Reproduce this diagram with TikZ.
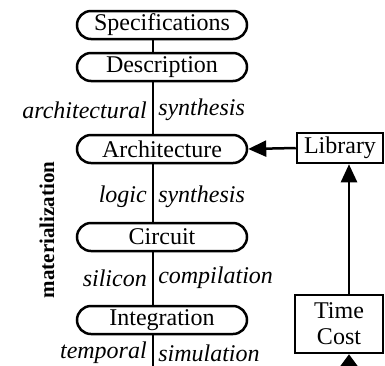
\documentclass[tikz,border=0pt]{standalone}
\usepackage{fontspec}
\setmainfont{Liberation Serif}
\usetikzlibrary{arrows.meta}

\begin{document}
\begin{tikzpicture}[x=0.5pt,y=-0.5pt,line width=1.25pt,
  stage/.style={draw,rounded corners=7pt,minimum width=85pt,minimum height=14pt,inner sep=0pt,font=\fontsize{12}{14}\selectfont},
  res/.style={draw,inner sep=0pt,align=center,font=\fontsize{12}{13}\selectfont},
  lab/.style={inner sep=0pt,font=\fontsize{12}{14}\selectfont\itshape},
  flow/.style={-{Triangle[length=9pt,width=8pt]}}]
\useasboundingbox (0,0) rectangle (385,365);
%%\draw[help lines] (0,0) grid[step=20] (385,365);
\coordinate (axis) at (153,0);
\coordinate (low) at (153,380);
\coordinate (up) at (349,0);
\coordinate (feed) at (349,384);
% design steps
\node[stage] (spec) at (162,25) {Specifications};
\node[stage] (desc) at (162,67) {Description};
\node[stage] (arch) at (162,149) {Architecture};
\node[stage] (circ) at (162,237) {Circuit};
\node[stage] (integ) at (162,320) {Integration};
\draw (spec.south -| axis)--(desc.north -| axis);
\draw (desc.south -| axis)--(arch.north -| axis);
\draw (arch.south -| axis)--(circ.north -| axis);
\draw (circ.south -| axis)--(integ.north -| axis);
\draw (integ.south -| axis)--(low);
% labels
\node[lab,anchor=east] (archl) at (148,110) {architectural};
\node[lab,anchor=west] (archr) at (157,110) {synthesis};
\node[lab,anchor=east] (logl) at (148,197) {logic};
\node[lab,anchor=west] (logr) at (157,197) {synthesis};
\node[lab,anchor=east] (sill) at (148,278) {silicon};
\node[lab,anchor=west] (silr) at (157,278) {compilation};
\node[lab,anchor=east] (teml) at (148,353) {temporal};
\node[lab,anchor=west] (temr) at (157,353) {simulation};
\node[rotate=90,inner sep=0pt,font=\bfseries\fontsize{10.5}{13}\selectfont] (mat) at (47,230) {materialization};
% resources
\node[res,minimum width=43pt,minimum height=15pt] (lib) at (340,148) {Library};
\node[res,minimum width=44pt,minimum height=29pt] (tc) at (339,324) {Time\\Cost};
\draw[flow] (lib.west)--(arch.east);
\draw[flow] (tc.north -| up)--(lib.south -| up);
\draw[-{Triangle[length=7pt,width=10pt]}] (feed)--(tc.south -| feed);
\end{tikzpicture}
\end{document}
